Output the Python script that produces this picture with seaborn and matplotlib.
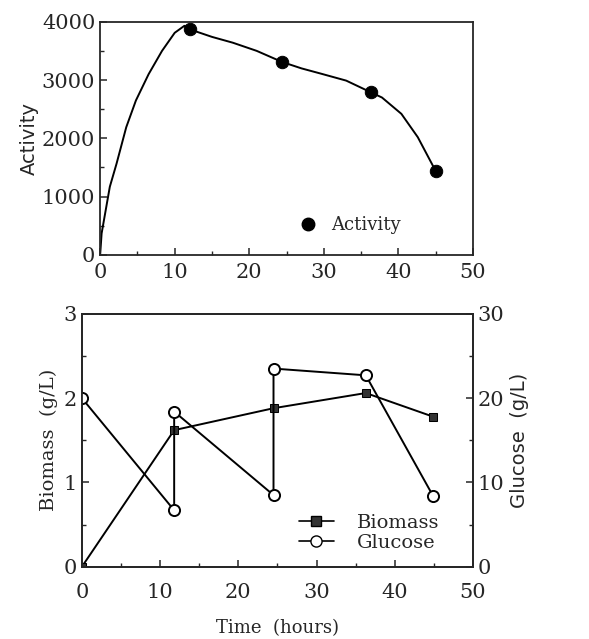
import numpy as np
import pandas as pd
import matplotlib
matplotlib.use("Agg")
import matplotlib.pyplot as plt
import seaborn as sns
from matplotlib.lines import Line2D
from matplotlib.ticker import MultipleLocator

# Activity measurements (top panel)
act_time = [12.0, 24.4, 36.3, 45.0]
act_value = [3870, 3310, 2790, 1440]

# hand-drawn trend curve
curve_time = [0.0, 0.2, 1.3, 2.2, 3.5, 4.8, 6.5, 8.3, 10.0, 11.3, 12.0, 15.0, 17.8,
              21.0, 24.4, 27.0, 29.6, 33.0, 36.3, 37.8, 40.4, 42.6, 45.0]
curve_value = [0, 370, 1170, 1565, 2190, 2650, 3100, 3500, 3810, 3930, 3870, 3740, 3640,
               3500, 3310, 3200, 3110, 2990, 2790, 2700, 2420, 2020, 1440]

# Biomass (left axis) and glucose (right axis), bottom panel
bio_time = [0.0, 11.8, 24.5, 36.3, 44.9]
bio_value = [0.0, 1.62, 1.88, 2.06, 1.78]

glu_time = [0.0, 11.8, 11.8, 24.5, 24.5, 36.3, 44.9]
glu_value = [20.0, 6.7, 18.4, 8.5, 23.5, 22.7, 8.4]

sns.set_style("ticks")
plt.rcParams["font.family"] = ["DejaVu Serif"]
plt.rcParams["xtick.direction"] = "in"
plt.rcParams["ytick.direction"] = "in"

fig = plt.figure(figsize=(5.89, 6.39), dpi=100)
ax1 = fig.add_axes([0.170, 0.601, 0.633, 0.365])
ax2 = fig.add_axes([0.139, 0.113, 0.664, 0.396])

curve = pd.DataFrame({"t": curve_time, "v": curve_value})
act = pd.DataFrame({"t": act_time, "v": act_value})
bio = pd.DataFrame({"t": bio_time, "v": bio_value})
glu = pd.DataFrame({"t": glu_time, "v": glu_value})

# top panel
sns.lineplot(data=curve, x="t", y="v", ax=ax1, color="black", lw=1.4,
             estimator=None, sort=False)
sns.scatterplot(data=act, x="t", y="v", ax=ax1, color="black", s=80,
                edgecolor="black", zorder=3)
ax1.set_xlim(0, 50)
ax1.set_ylim(0, 4000)
ax1.xaxis.set_major_locator(MultipleLocator(10))
ax1.xaxis.set_minor_locator(MultipleLocator(5))
ax1.yaxis.set_major_locator(MultipleLocator(1000))
ax1.yaxis.set_minor_locator(MultipleLocator(500))
ax1.set_xlabel("")
ax1.set_ylabel("Activity", fontsize=14, family="DejaVu Sans", labelpad=2)
ax1.legend(handles=[Line2D([], [], ls="", marker="o", color="black", markersize=9)],
           labels=["Activity"], loc="lower right", bbox_to_anchor=(0.85, 0.02),
           frameon=False, fontsize=13, handletextpad=0.3)

# bottom panel
ax3 = ax2.twinx()
sns.lineplot(data=bio, x="t", y="v", ax=ax2, color="black", lw=1.4, marker="s",
             markersize=6, markeredgecolor="black", markerfacecolor="#333333",
             estimator=None, sort=False)
sns.lineplot(data=glu, x="t", y="v", ax=ax3, color="black", lw=1.4, marker="o",
             markersize=8, markerfacecolor="white", markeredgecolor="black",
             markeredgewidth=1.4, estimator=None, sort=False)
ax2.set_xlim(0, 50)
ax2.set_ylim(0, 3)
ax3.set_ylim(0, 30)
ax2.xaxis.set_major_locator(MultipleLocator(10))
ax2.xaxis.set_minor_locator(MultipleLocator(5))
ax2.yaxis.set_major_locator(MultipleLocator(1))
ax2.yaxis.set_minor_locator(MultipleLocator(0.5))
ax3.yaxis.set_major_locator(MultipleLocator(10))
ax3.yaxis.set_minor_locator(MultipleLocator(5))
ax2.set_xlabel("Time  (hours)", fontsize=13, labelpad=12)
ax2.set_ylabel("Biomass  (g/L)", fontsize=14)
ax3.set_ylabel("Glucose  (g/L)", fontsize=14, family="DejaVu Sans")

handles = [
    Line2D([], [], color="black", lw=1.2, marker="s", markersize=7,
           markerfacecolor="#333333", markeredgecolor="black"),
    Line2D([], [], color="black", lw=1.2, marker="o", markersize=8,
           markerfacecolor="white", markeredgecolor="black"),
]
ax2.legend(handles=handles, labels=["Biomass", "Glucose"], loc="lower right",
           bbox_to_anchor=(0.96, -0.01), frameon=False, fontsize=14,
           handlelength=1.8, handletextpad=1.2, labelspacing=0.1)

for ax in (ax1, ax2, ax3):
    for s in ax.spines.values():
        s.set_linewidth(1.3)
        s.set_visible(True)
    ax.tick_params(which="major", length=5, width=1.1, labelsize=15)
    ax.tick_params(which="minor", length=3, width=1.0)
ax1.tick_params(axis="x", pad=6)
ax2.tick_params(axis="x", pad=12)

fig.savefig("out.png", dpi=100)
